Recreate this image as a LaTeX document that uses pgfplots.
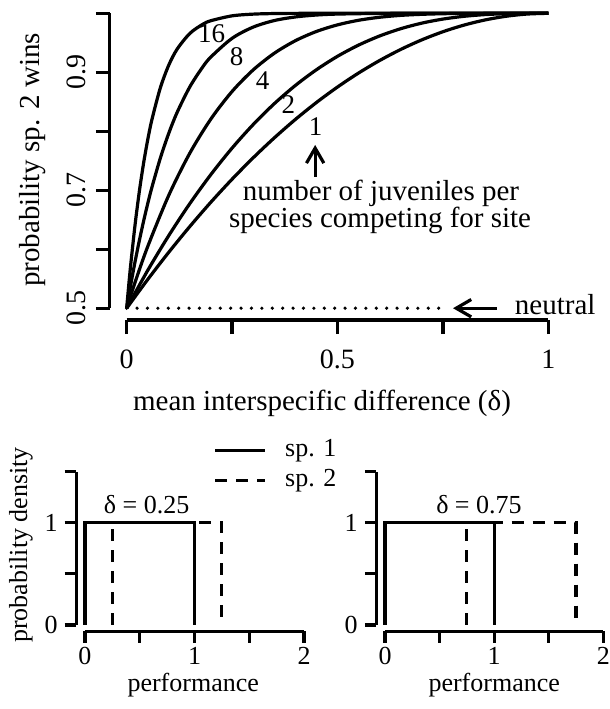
\documentclass[border=0pt]{standalone}
\usepackage{fontspec}
\setmainfont{Liberation Serif}
\usepackage{graphicx}
\usepackage{pgfplots}
\pgfplotsset{compat=1.18}
\usetikzlibrary{arrows.meta}
\newcommand{\ftop}{\fontsize{14.5}{16}\selectfont}
\newcommand{\ftick}{\fontsize{14}{16}\selectfont}
\newcommand{\fcurve}{\fontsize{13.5}{15}\selectfont}
\newcommand{\fbot}{\fontsize{13}{15}\selectfont}
\pgfplotsset{
  rline/.style={black, line width=1.6pt, mark=none},
  rstyle/.style={
    scale only axis, clip=false,
    axis x line*=bottom, axis y line*=left,
    axis line style={draw=none},
    tick align=outside,
    tick style={black, line width=1.6pt},
    /pgf/number format/assume math mode=true,
  }
}
\begin{document}
\begin{tikzpicture}
\useasboundingbox (0,0) rectangle (305pt,-354.5pt);
% ---------------- top panel ----------------
\begin{axis}[rstyle,
  at={(54.9pt,-0.75pt)}, anchor=north west,
  width=227.7pt, height=159.25pt,
  xmin=-0.04, xmax=1.04, ymin=0.48, ymax=1.02,
  major tick length=7pt,
  xtick={0,0.25,0.5,0.75,1}, xticklabels={0,,0.5,,1},
  ytick={0.5,0.6,0.7,0.8,0.9,1},
  yticklabels={\rotatebox{90}{0.5},,\rotatebox{90}{0.7},,\rotatebox{90}{0.9},},
  ticklabel style={font=\ftick},
  xticklabel style={yshift=-4.5pt},
  yticklabel style={xshift=-1.5pt},
]
\addplot[rline, smooth, tension=0.5] coordinates {(0,0.5)(0.05,0.54875)(0.1,0.595)(0.15,0.63875)(0.2,0.68)(0.25,0.71875)(0.3,0.755)(0.35,0.78875)(0.4,0.82)(0.45,0.84875)(0.5,0.875)(0.55,0.89875)(0.6,0.92)(0.65,0.93875)(0.7,0.955)(0.75,0.96875)(0.8,0.98)(0.85,0.98875)(0.9,0.995)(0.95,0.99875)(1,1)};
\addplot[rline, smooth, tension=0.5] coordinates {(0,0.5)(0.05,0.5642)(0.1,0.62335)(0.15,0.6776)(0.2,0.7269)(0.25,0.7715)(0.3,0.81135)(0.35,0.8467)(0.4,0.8776)(0.45,0.9043)(0.5,0.9271)(0.55,0.9461)(0.6,0.9616)(0.65,0.9739)(0.7,0.98335)(0.75,0.9902)(0.8,0.9949)(0.85,0.9978)(0.9,0.99935)(0.95,0.9999)(1,1)};
\addplot[rline, smooth, tension=0.5] coordinates {(0,0.5)(0.02,0.5441)(0.05,0.6047)(0.1,0.6917)(0.15,0.7632)(0.2,0.8211)(0.25,0.8675)(0.3,0.9040)(0.35,0.9322)(0.4,0.9535)(0.45,0.9692)(0.5,0.9804)(0.55,0.9882)(0.6,0.9933)(0.65,0.9965)(0.7,0.9983)(0.75,0.9993)(0.8,0.9998)(0.9,1)(1,1)};
\addplot[rline, smooth, tension=0.5] coordinates {(0,0.5)(0.01,0.5411)(0.02,0.5792)(0.03,0.6145)(0.04,0.6472)(0.05,0.6774)(0.06,0.7053)(0.08,0.7548)(0.1,0.7969)(0.12,0.8325)(0.15,0.8756)(0.18,0.9086)(0.2,0.9261)(0.25,0.9576)(0.3,0.9766)(0.35,0.9877)(0.4,0.9938)(0.45,0.9971)(0.5,0.9987)(0.6,0.9998)(0.7,1)(1,1)};
\addplot[rline, smooth, tension=0.5] coordinates {(0,0.5)(0.005,0.5397)(0.01,0.5765)(0.02,0.6419)(0.03,0.6977)(0.04,0.7453)(0.05,0.7858)(0.06,0.8201)(0.08,0.8740)(0.1,0.9124)(0.12,0.9396)(0.15,0.9660)(0.18,0.9812)(0.2,0.9875)(0.25,0.9957)(0.3,0.9986)(0.35,0.9996)(0.4,0.9999)(0.5,1)(1,1)};
% neutral line
\addplot[rline, line width=1.8pt, line cap=round, dash pattern=on 0pt off 5.2pt] coordinates {(0,0.5)(0.76,0.5)};
% axis lines
\draw[line width=1.6pt] (axis cs:0,0.48) -- (axis cs:1,0.48);
\draw[line width=1.6pt] (axis cs:-0.04,0.5) -- (axis cs:-0.04,1);
% labels
\node[font=\fcurve] at (axis cs:0.2016,0.9661) {16};
\node[font=\fcurve] at (axis cs:0.261,0.9265) {8};
\node[font=\fcurve] at (axis cs:0.3226,0.8853) {4};
\node[font=\fcurve] at (axis cs:0.3834,0.8446) {2};
\node[font=\fcurve] at (axis cs:0.448,0.8078) {1};
\draw[line width=1.6pt, -{Straight Barb[length=7.5pt,width=8.7pt]}] (axis cs:0.447,0.7231) -- (axis cs:0.447,0.7768);
\node[font=\ftop, anchor=base] at (axis cs:0.603,0.6819) {number of juveniles per};
\node[font=\ftop, anchor=base] at (axis cs:0.601,0.6361) {species competing for site};
\draw[line width=1.6pt, -{Straight Barb[length=7.5pt,width=8.7pt]}] (axis cs:0.878,0.5) -- (axis cs:0.774,0.5);
\node[font=\ftop, anchor=base west] at (axis cs:0.904,0.4886) {neutral};
\end{axis}
\node[font=\ftop, rotate=90] at (16.5pt,-80pt) {probability sp. 2 wins};
\node[font=\ftop, anchor=base] at (161pt,-205pt) {mean interspecific difference (δ)};
% ---------------- bottom left ----------------
\begin{axis}[rstyle,
  at={(38.1pt,-232.8pt)}, anchor=north west,
  width=118.3pt, height=82.75pt,
  xmin=-0.08, xmax=2.08, ymin=-0.06, ymax=1.56,
  major tick length=5.75pt,
  xtick={0,0.5,1,1.5,2}, xticklabels={0,,1,,2},
  ytick={0,0.5,1,1.5}, yticklabels={0,,1,},
  ticklabel style={font=\fbot},
  xticklabel style={yshift=1pt},
  legend style={at={(axis cs:1.169,1.83)}, anchor=north west, draw=none, fill=none,
    inner sep=0pt, font=\fbot, row sep=3pt, column sep=0pt,
    nodes={inner sep=0pt, text height=9pt, text depth=3pt},
    cells={anchor=west}},
  legend image code/.code={\draw[#1] (0pt,0pt) -- (25pt,0pt);},
]
\addplot[rline] coordinates {(0,0)(0,1)(1,1)(1,0)};
\addplot[rline, dash pattern=on 6pt off 4.5pt] coordinates {(0.25,0)(0.25,1)(1.25,1)(1.25,0)};
\legend{\hspace{9.3pt}sp. 1, \hspace{9.3pt}sp. 2}
\draw[line width=1.6pt] (axis cs:0,-0.06) -- (axis cs:2,-0.06);
\draw[line width=1.6pt] (axis cs:-0.08,0) -- (axis cs:-0.08,1.5);
\node[font=\fbot, anchor=base] at (axis cs:0.563,1.096) {δ = 0.25};
\end{axis}
\node[font=\fbot, rotate=90] at (10.4pt,-272.5pt) {probability density};
\node[font=\fbot, anchor=base] at (96.6pt,-345.8pt) {performance};
% ---------------- bottom right ----------------
\begin{axis}[rstyle,
  at={(188.15pt,-232.8pt)}, anchor=north west,
  width=117.85pt, height=82.75pt,
  xmin=-0.08, xmax=2.08, ymin=-0.06, ymax=1.56,
  major tick length=5.75pt,
  xtick={0,0.5,1,1.5,2}, xticklabels={0,,1,,2},
  ytick={0,0.5,1,1.5}, yticklabels={0,,1,},
  ticklabel style={font=\fbot},
  xticklabel style={yshift=1pt},
]
\addplot[rline] coordinates {(0,0)(0,1)(1,1)(1,0)};
\addplot[rline, dash pattern=on 6pt off 4.5pt] coordinates {(0.75,0)(0.75,1)(1.75,1)(1.75,0)};
\draw[line width=1.6pt] (axis cs:0,-0.06) -- (axis cs:2,-0.06);
\draw[line width=1.6pt] (axis cs:-0.08,0) -- (axis cs:-0.08,1.5);
\node[font=\fbot, anchor=base] at (axis cs:0.861,1.096) {δ = 0.75};
\end{axis}
\node[font=\fbot, anchor=base] at (247.1pt,-345.8pt) {performance};
\end{tikzpicture}
\end{document}
